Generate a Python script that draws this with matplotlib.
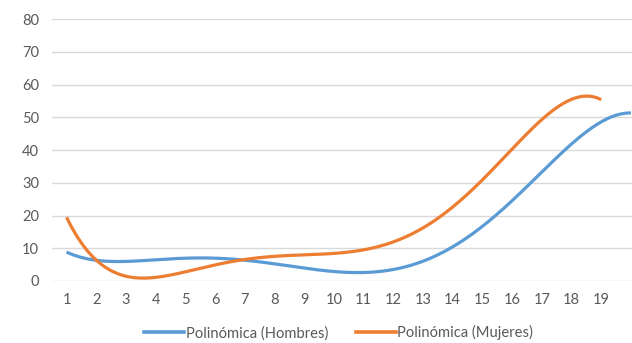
import numpy as np
import matplotlib
matplotlib.use("Agg")
import matplotlib.pyplot as plt
from matplotlib.lines import Line2D

# Trendline values at each category position
hombres = [8.9, 6.2, 6.0, 6.4, 7.0, 7.2, 6.6, 4.9, 3.7, 2.8,
           2.6, 3.9, 6.1, 10.5, 16.6, 24.2, 33.4, 42.0, 48.7, 51.3]
mujeres = [19.6, 6.0, 1.8, 0.8, 3.1, 5.1, 6.4, 7.4, 7.9, 8.4,
           9.5, 12.3, 15.8, 23.2, 30.9, 40.0, 48.7, 56.5, 55.1]
x_labels = [str(i) for i in range(1, 20)]
y_ticks = [0, 10, 20, 30, 40, 50, 60, 70, 80]
series_names = ["Polinómica (Hombres)", "Polinómica (Mujeres)"]
colors = ["#5B9BD5", "#ED7D31"]

plt.rcParams["font.family"] = ["Lato", "DejaVu Sans"]

fig = plt.figure(figsize=(6.32, 3.43), dpi=100)
ax = fig.add_axes([0.0818, 0.1808, 0.940, 0.763])


def poly_curve(values, degree=6):
    xs = np.arange(1, len(values) + 1, dtype=float)
    coef = np.polyfit(xs, values, degree)
    xf = np.linspace(1, len(values), 400)
    return xf, np.polyval(coef, xf)


for vals, col in zip([hombres, mujeres], colors):
    xf, yf = poly_curve(vals)
    ax.plot(xf, yf, color=col, lw=2.3, solid_capstyle="butt", zorder=3)

ax.set_xlim(0.5, 20.5)
ax.set_ylim(0, 80)
ax.set_yticks(y_ticks)
ax.set_xticks(range(1, len(x_labels) + 1))
ax.set_xticklabels(x_labels)
ax.grid(axis="y", color="#D9D9D9", lw=1)
ax.set_axisbelow(True)
for s in ax.spines.values():
    s.set_visible(False)
ax.tick_params(axis="both", length=0, labelsize=10.5, labelcolor="#595959")
ax.tick_params(axis="x", pad=9)
ax.tick_params(axis="y", pad=9)

handles = [Line2D([], [], color=c, lw=2.6) for c in colors]
fig.legend(handles, series_names, loc="center", bbox_to_anchor=(0.536, 0.03),
           ncol=2, frameon=False, fontsize=10.6, handlelength=2.7,
           handletextpad=0.1, columnspacing=1.9, labelcolor="#595959")

fig.savefig("out.png", dpi=100)
